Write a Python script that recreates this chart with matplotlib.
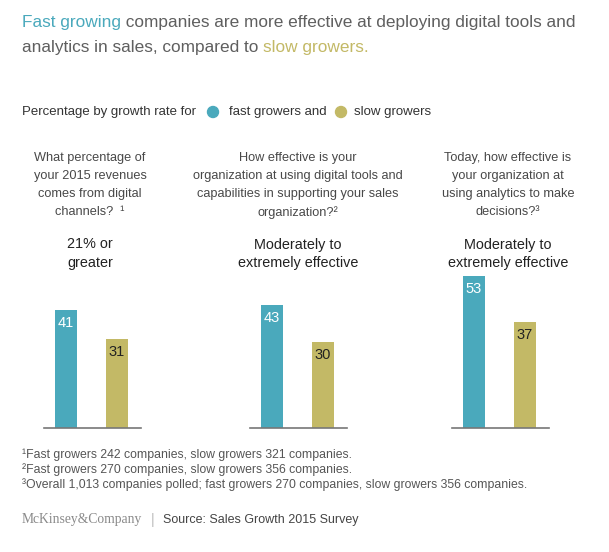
import matplotlib.pyplot as plt
from matplotlib.patches import Ellipse

W, H = 609, 552

# data
groups = ["fast growers", "slow growers"]
fast_vals = [41, 43, 53]
slow_vals = [31, 30, 37]
questions = [
    "What percentage of\nyour 2015 revenues\ncomes from digital\nchannels?  \u00b9",
    "How effective is your\norganization at using digital tools and\ncapabilities in supporting your sales\norganization?\u00b2",
    "Today, how effective is\nyour organization at\nusing analytics to make\ndecisions?\u00b3",
]
answers = ["21% or\ngreater", "Moderately to\nextremely effective", "Moderately to\nextremely effective"]
footnotes = [
    "\u00b9Fast growers 242 companies, slow growers 321 companies.",
    "\u00b2Fast growers 270 companies, slow growers 356 companies.",
    "\u00b3Overall 1,013 companies polled; fast growers 270 companies, slow growers 356 companies.",
]
source = "Source: Sales Growth 2015 Survey"

TEAL = "#4aa9bc"
OLIVE = "#c3b966"
GRAY = "#5f5f5f"

plt.rcParams['font.family'] = ['Liberation Sans', 'DejaVu Sans']

fig = plt.figure(figsize=(W / 100, H / 100), dpi=100)


def fx(x):
    return x / W


def fy(y):
    return 1 - y / H


# title in coloured pieces
renderer = fig.canvas.get_renderer()
title_lines = [
    [("Fast growing", TEAL), (" companies are more effective at deploying digital tools and", GRAY)],
    [("analytics in sales, compared to ", GRAY), ("slow growers.", OLIVE)],
]
for i, parts in enumerate(title_lines):
    x = 22
    for txt, col in parts:
        t = fig.text(fx(x), fy(27 + i * 25), txt, color=col, fontsize=12.4, va='baseline')
        x += t.get_window_extent(renderer).width

# legend line
fig.text(fx(22), fy(112), "Percentage by growth rate for", fontsize=9.5, color="#333333", va='center')
fig.text(fx(229), fy(112), "fast growers and", fontsize=9.5, color="#333333", va='center')
fig.text(fx(354), fy(112), "slow growers", fontsize=9.5, color="#333333", va='center')
for cx, col in [(213, TEAL), (341, OLIVE)]:
    fig.patches.append(Ellipse((fx(cx), fy(112)), 11 / W, 11 / H,
                               transform=fig.transFigure, color=col, figure=fig))

# panels
lefts = [44, 250, 452]
centers = [90, 298, 508]
ax_w = 97
base_y = 428
px_per_unit = 2.87
ymax = 60
for i in range(3):
    ax = fig.add_axes([fx(lefts[i]), fy(base_y), ax_w / W, ymax * px_per_unit / H])
    ax.bar([0, 1], [fast_vals[i], slow_vals[i]], width=0.431, color=[TEAL, OLIVE])
    ax.set_xlim(-0.431, 1.47)
    ax.set_ylim(0, ymax)
    for s in ['top', 'left', 'right']:
        ax.spines[s].set_visible(False)
    ax.spines['bottom'].set_color("#777777")
    ax.spines['bottom'].set_linewidth(1.2)
    ax.set_xticks([])
    ax.set_yticks([])
    ax.patch.set_alpha(0)
    ax.annotate(str(fast_vals[i]), (0, fast_vals[i]), xytext=(0, -13), textcoords='offset pixels',
                ha='center', va='center', color='white', fontsize=10.5)
    ax.annotate(str(slow_vals[i]), (1, slow_vals[i]), xytext=(0, -13), textcoords='offset pixels',
                ha='center', va='center', color='#222222', fontsize=10.5)

    fig.text(fx(centers[i]), fy(152), questions[i], ha='center', va='top', fontsize=9.2,
             color="#484848", linespacing=1.66)
    fig.text(fx(centers[i]), fy(237.5), answers[i], ha='center', va='top', fontsize=10.4,
             color="#222222", linespacing=1.45)

# footnotes
for i, note in enumerate(footnotes):
    fig.text(fx(22), fy(455 + i * 15), note, fontsize=8.85, color="#555555", va='center')

fig.text(fx(22), fy(520), "McKinsey&Company", family='Liberation Serif', fontsize=9.8,
         color="#8a8a8a", va='center')
fig.text(fx(151), fy(520), "|", fontsize=10, color="#bbbbbb", va='center')
fig.text(fx(163), fy(520), source, fontsize=9, color="#444444", va='center')

fig.savefig("out.png", dpi=100)
